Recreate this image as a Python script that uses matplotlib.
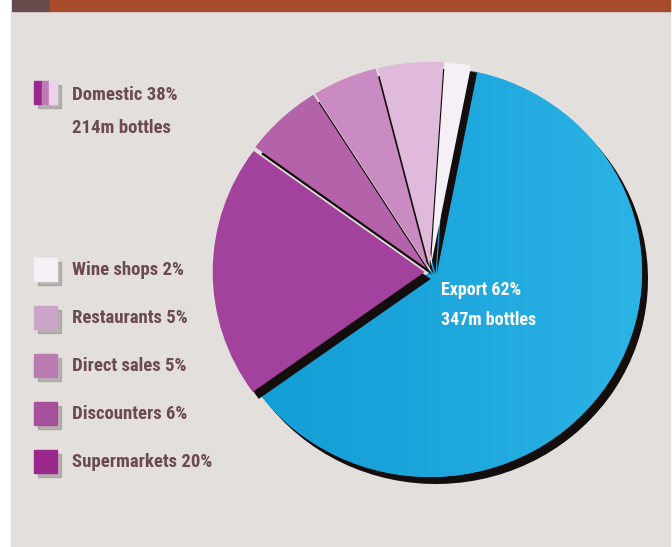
import matplotlib.pyplot as plt
import numpy as np
from matplotlib.patches import Rectangle
from matplotlib.colors import LinearSegmentedColormap

# channel shares of wine sales (percent)
channels = ['Export', 'Supermarkets', 'Discounters', 'Direct sales', 'Restaurants', 'Wine shops']
shares = [62, 20, 6, 5, 5, 2]
domestic_share = 38
export_bottles = 347
domestic_bottles = 214

pie_colors = ['#1aa3d9', '#a2429c', '#b462aa', '#c98bc1', '#dfbadb', '#f5f0f5']
key_colors = ['#9a278c', '#a64f9d', '#b97bb1', '#cda4c9', '#f4f0f6']  # supermarkets .. wine shops
text_color = '#6b4b4e'
font = ['Roboto Condensed', 'DejaVu Sans']
tkw = dict(fontsize=13.5, fontweight='bold', family=font, fontstretch='condensed', va='center')

fig = plt.figure(figsize=(6.72, 5.47), dpi=100)
fig.patch.set_facecolor('white')
ax = fig.add_axes([0, 0, 1, 1])
ax.set_xlim(0, 672)
ax.set_ylim(0, 547)
ax.axis('off')

# panel and top strip
ax.add_patch(Rectangle((11, 0), 659, 536, color='#e3dfdd', zorder=0))
ax.add_patch(Rectangle((12, 536), 38, 11, color='#6a4b4d', zorder=0))
ax.add_patch(Rectangle((50, 536), 620, 11, color='#a84b2c', zorder=0))

# pie in its own axes, unit radius, slightly wider than tall
cx, cy, rx, ry = 430, 275, 212, 205
pax = fig.add_axes([0, 0, 1, 1])
explode = [0, .025, .025, .025, .025, .025]

sh, _ = pax.pie(shares, colors=['#140d0d'] * len(shares), startangle=79, counterclock=False,
                center=(6 / rx, -7 / ry), radius=1, explode=explode,
                wedgeprops=dict(linewidth=0))
wedges, _ = pax.pie(shares, colors=pie_colors, startangle=79, counterclock=False,
                    center=(0, 0), radius=1, explode=explode,
                    wedgeprops=dict(linewidth=0))
sh[0].set_zorder(1)
wedges[0].set_zorder(2)
for w in sh[1:]:
    w.set_zorder(3)
for w in wedges[1:]:
    w.set_zorder(4)

# light-to-dark shading on the export slice
blue = LinearSegmentedColormap.from_list('blue', ['#0f9bd4', '#1ca6dc', '#2db4e6'])
grad = np.tile(np.linspace(0, 1, 256), (64, 1))
im = pax.imshow(grad, cmap=blue, extent=(-1.05, 1.05, -1.05, 1.05), zorder=2.5)
im.set_clip_path(wedges[0])

pax.set_xlim(-cx / rx, (672 - cx) / rx)
pax.set_ylim(-cy / ry, (547 - cy) / ry)
pax.set_aspect('auto')
pax.axis('off')

ekw = dict(tkw, fontsize=13)
pax.text(441, 257, f'Export {shares[0]}%', color='white', transform=ax.transData, zorder=10, **ekw)
pax.text(441, 227, f'{export_bottles}m bottles', color='white', transform=ax.transData, zorder=10, **ekw)

# domestic key
ax.add_patch(Rectangle((38, 439), 23, 23, color='#8d8785', alpha=.5, zorder=2))
for i, c in enumerate(['#9a278c', '#c07ab8', '#ead3ea']):
    ax.add_patch(Rectangle((34 + i * 7.7, 443), 7.7, 23, color=c, zorder=3))
ax.text(72, 452, f'Domestic {domestic_share}%', color=text_color, **tkw)
ax.text(72, 419, f'{domestic_bottles}m bottles', color=text_color, **tkw)

# channel key, wine shops on top
rows = [277, 229, 181, 133, 85]
for name, share, c, y in zip(channels[:0:-1], shares[:0:-1], key_colors[::-1], rows):
    ax.add_patch(Rectangle((38, y - 15), 23, 23, color='#8d8785', alpha=.5, zorder=2))
    ax.add_patch(Rectangle((34, y - 11), 23, 23, color=c, zorder=3))
    ax.text(72, y, f'{name} {share}%', color=text_color, **tkw)

fig.savefig('out.png', dpi=100)
